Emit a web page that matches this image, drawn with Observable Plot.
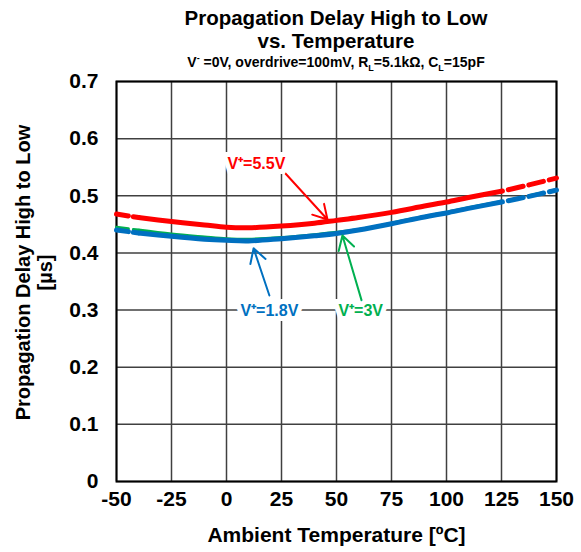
<!DOCTYPE html>
<html>
<head>
<meta charset="utf-8">
<script src="https://cdn.jsdelivr.net/npm/d3@7"></script>
<script src="https://cdn.jsdelivr.net/npm/@observablehq/plot@0.6"></script>
<style>
  body { margin: 0; background: #fff; }
  #wrap { position: relative; width: 581px; height: 552px; font-family: Arial, "Liberation Sans", sans-serif; }
  #title { position: absolute; left: 116px; width: 440px; top: 6px; text-align: center; font-weight: bold; color: #000; }
  #title .t { font-size: 20.5px; line-height: 23px; }
  #title .s { font-size: 14px; line-height: 18px; margin-top: 1px; }
  #title sub, #title sup { font-size: 9px; line-height: 0; }
  #chart { position: absolute; left: 0; top: 0; }
</style>
</head>
<body>
<div id="wrap">
  <div id="chart"></div>
  <div id="title">
    <div class="t">Propagation Delay High to Low</div>
    <div class="t">vs. Temperature</div>
    <div class="s">V<sup>-</sup> =0V, overdrive=100mV, R<sub>L</sub>=5.1kΩ, C<sub>L</sub>=15pF</div>
  </div>
</div>
<script>
const temps = [-50, -40, -25, -10, 0, 10, 25, 40, 50, 60, 75, 90, 100, 110, 125, 137.5, 150];
const v55 = [0.468, 0.462, 0.455, 0.449, 0.445, 0.444, 0.447, 0.452, 0.457, 0.462, 0.471, 0.482, 0.489, 0.497, 0.508, 0.519, 0.531];
const v30 = [0.445, 0.440, 0.433, 0.428, 0.425, 0.424, 0.427, 0.432, 0.436, 0.441, 0.452, 0.464, 0.471, 0.479, 0.490, 0.500, 0.511];
const v18 = [0.440, 0.435, 0.429, 0.424, 0.422, 0.421, 0.425, 0.430, 0.434, 0.440, 0.451, 0.463, 0.470, 0.478, 0.489, 0.499, 0.510];
const seriesNames = ["V⁺=3V", "V⁺=1.8V", "V⁺=5.5V"];
const seriesColors = ["#00b050", "#0070c0", "#ff0000"];
const seriesWidths = [3, 5, 5];
const solidRange = [-40, 125];
const xTicks = [-50, -25, 0, 25, 50, 75, 100, 125, 150];
const yTicks = [0, 0.1, 0.2, 0.3, 0.4, 0.5, 0.6, 0.7];
const xLabel = "Ambient Temperature [ºC]";
const yLabel = "Propagation Delay High to Low\n[µs]";
// annotations: label position and arrow (from -> to), in data units
const annLabels = ["V⁺=5.5V", "V⁺=1.8V", "V⁺=3V"];
const annColors = ["#ff0000", "#0070c0", "#00b050"];
const annX = [13.6, 19.5, 61];
const annY = [0.5565, 0.299, 0.299];
const arrX1 = [26.8, 19.5, 61.4];
const arrY1 = [0.539, 0.3255, 0.317];
const arrX2 = [45.9, 12.3, 52.7];
const arrY2 = [0.4585, 0.408, 0.4305];

const allValues = [v30, v18, v55];
const lineMarks = [];
allValues.forEach((vals, i) => {
  const pts = temps.map((t, j) => ({t, v: vals[j]}));
  const solid = pts.filter(d => d.t >= solidRange[0] && d.t <= solidRange[1]);
  const left = pts.filter(d => d.t <= solidRange[0]);
  const right = pts.filter(d => d.t >= solidRange[1]);
  const common = {x: "t", y: "v", stroke: seriesColors[i], strokeWidth: seriesWidths[i], curve: "catmull-rom"};
  lineMarks.push(Plot.line(solid, {...common, strokeLinecap: "butt"}));
  lineMarks.push(Plot.line(left, {...common, strokeDasharray: "12,5", strokeDashoffset: 0}));
  lineMarks.push(Plot.line(right, {...common, strokeDasharray: "15,6", strokeDashoffset: -7}));
});

const anns = annLabels.map((label, i) => ({label, color: annColors[i], x: annX[i], y: annY[i], x1: arrX1[i], y1: arrY1[i], x2: arrX2[i], y2: arrY2[i]}));

const chart = Plot.plot({
  width: 581,
  height: 552,
  marginLeft: 116,
  marginRight: 25,
  marginTop: 81,
  marginBottom: 71,
  style: {fontFamily: "Arial, 'Liberation Sans', sans-serif", fontWeight: "bold", color: "#000", background: "#fff"},
  x: {domain: [-50, 150]},
  y: {domain: [0, 0.7]},
  marks: [
    Plot.gridX(xTicks, {stroke: "#404040", strokeOpacity: 1, strokeWidth: 1.5}),
    Plot.gridY(yTicks, {stroke: "#404040", strokeOpacity: 1, strokeWidth: 1.5}),
    Plot.frame({stroke: "#000", strokeWidth: 2}),
    Plot.axisX(xTicks, {tickSize: 0, tickPadding: 10, fontSize: 21, label: null, fill: "#000", tickFormat: d => String(d)}),
    Plot.axisY(yTicks, {tickSize: 0, tickPadding: 18, fontSize: 21, label: null, fill: "#000", tickFormat: d => d === 0 ? "0" : d.toFixed(1)}),
    Plot.text([xLabel], {text: d => d, frameAnchor: "bottom", dy: 60, fontSize: 21, fill: "#000"}),
    Plot.text([yLabel], {text: d => d, frameAnchor: "left", textAnchor: "middle", rotate: -90, dx: -83, dy: -9, fontSize: 20, lineHeight: 1.1, fill: "#000"}),
    ...lineMarks,
    Plot.arrow(anns, {x1: "x1", y1: "y1", x2: "x2", y2: "y2", stroke: "color", strokeWidth: 2, headLength: 12, bend: 0}),
    Plot.text(anns, {x: "x", y: "y", text: "label", fill: "color", fontSize: 16, stroke: "#fff", strokeWidth: 10, strokeLinejoin: "miter"})
  ]
});
document.getElementById("chart").appendChild(chart);
</script>
</body>
</html>
